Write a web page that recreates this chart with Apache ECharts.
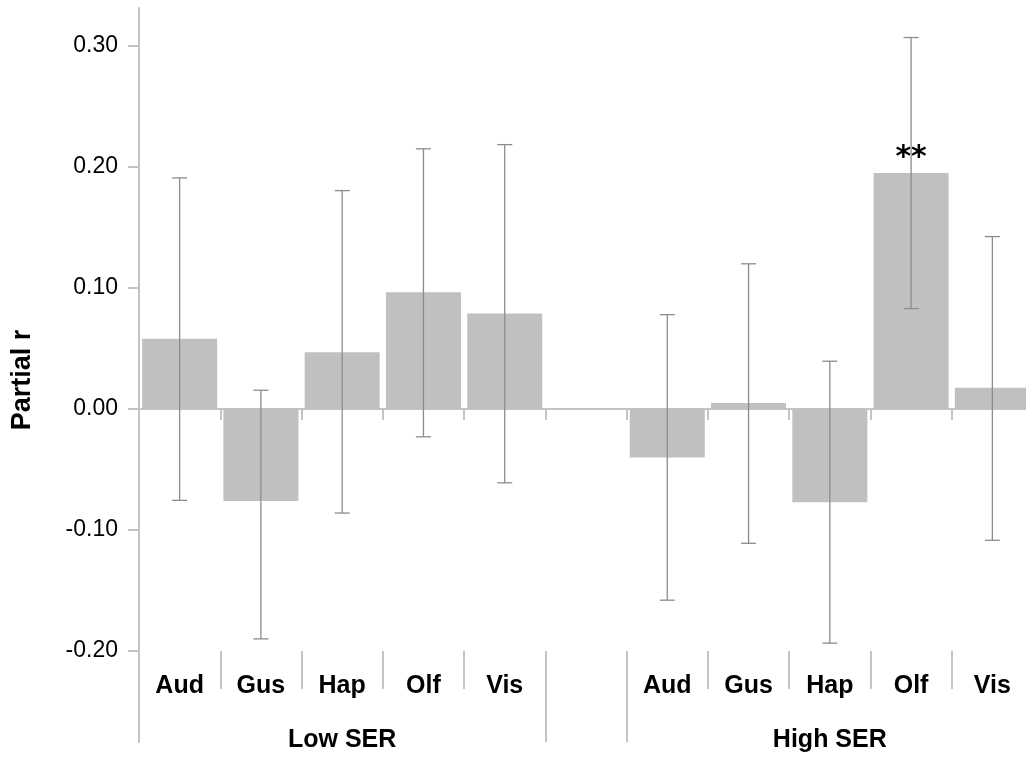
<!DOCTYPE html>
<html>
<head>
<meta charset="utf-8">
<script src="https://cdn.jsdelivr.net/npm/echarts@6/dist/echarts.min.js"></script>
<style>
  html, body { margin: 0; padding: 0; background: #fff; }
  #main { width: 1026px; height: 757px; }
</style>
</head>
<body>
<div id="main"></div>
<script>
var categories = ["Aud", "Gus", "Hap", "Olf", "Vis", "", "Aud", "Gus", "Hap", "Olf", "Vis"];
var groups = ["", "", "Low SER", "", "", "", "", "", "High SER", "", ""];
var partialR = [0.058, -0.076, 0.047, 0.0965, 0.079, null, -0.040, 0.005, -0.077, 0.195, 0.0175];
var ciLow = [-0.0755, -0.190, -0.086, -0.023, -0.061, null, -0.158, -0.111, -0.1935, 0.083, -0.1085];
var ciHigh = [0.191, 0.0155, 0.1805, 0.215, 0.2185, null, 0.078, 0.120, 0.0395, 0.307, 0.1425];
var sig = ["", "", "", "", "", "", "", "", "", "**", ""];

var axisGray = "#c4c4c4";
var font = "Liberation Sans";

var errData = [];
for (var i = 0; i < categories.length; i++) {
  if (ciLow[i] != null) errData.push([i, ciLow[i], ciHigh[i]]);
}

var option = {
  animation: false,
  textStyle: { fontFamily: font },
  grid: [
    { left: 139, right: -7, top: 46, bottom: 106, outerBoundsMode: "none" },
    { left: 139, right: -7, top: 8, bottom: 15, outerBoundsMode: "none" }
  ],
  xAxis: [
    {
      // zero line with short ticks
      type: "category",
      gridIndex: 0,
      data: categories,
      position: "bottom",
      axisLine: { onZero: true, lineStyle: { color: axisGray, width: 2 } },
      axisTick: { show: true, length: 11, lineStyle: { color: axisGray, width: 2 } },
      axisLabel: { show: false }
    },
    {
      // category labels
      type: "category",
      gridIndex: 0,
      data: categories,
      position: "bottom",
      axisLine: { show: false, onZero: false },
      axisTick: { show: true, length: 38, lineStyle: { color: axisGray, width: 2 } },
      axisLabel: { interval: 0, margin: 23, fontSize: 25, fontWeight: "bold", color: "#000", fontFamily: font }
    },
    {
      // group labels
      type: "category",
      gridIndex: 0,
      data: groups,
      position: "bottom",
      axisLine: { show: false, onZero: false },
      axisTick: {
        show: true, length: 91,
        interval: function (idx) { return idx === 5 || idx === 6; },
        lineStyle: { color: axisGray, width: 2 }
      },
      axisLabel: { interval: 0, margin: 77, fontSize: 25, fontWeight: "bold", color: "#000", fontFamily: font }
    },
    { type: "category", gridIndex: 1, data: categories, show: false }
  ],
  yAxis: [
    {
      type: "value",
      gridIndex: 0,
      min: -0.2,
      max: 0.3,
      interval: 0.1,
      axisLine: { show: false },
      axisTick: { show: true, length: 11, lineStyle: { color: axisGray, width: 2 } },
      axisLabel: {
        margin: 21, fontSize: 23, color: "#000", fontFamily: font,
        formatter: function (v) { return v.toFixed(2); }
      },
      splitLine: { show: false }
    },
    {
      type: "value",
      gridIndex: 1,
      min: 0,
      max: 1,
      name: "Partial r",
      nameLocation: "middle",
      nameGap: 103,
      nameTextStyle: { fontSize: 27, fontWeight: "bold", color: "#000", fontFamily: font, padding: [0, 10, 0, 0] },
      axisLine: { show: true, lineStyle: { color: axisGray, width: 2 } },
      axisTick: { show: false },
      axisLabel: { show: false },
      splitLine: { show: false }
    }
  ],
  series: [
    {
      type: "bar",
      xAxisIndex: 0,
      yAxisIndex: 0,
      data: partialR,
      barWidth: 75,
      itemStyle: { color: "#c0c0c0" },
      label: {
        show: true,
        position: "top",
        distance: 0,
        formatter: function (p) { return sig[p.dataIndex]; },
        fontSize: 30,
        fontWeight: "bold",
        color: "#000",
        fontFamily: "DejaVu Sans"
      },
      z: 2
    },
    {
      type: "custom",
      xAxisIndex: 0,
      yAxisIndex: 0,
      clip: false,
      data: errData,
      z: 5,
      renderItem: function (params, api) {
        var x = api.value(0);
        var lo = api.coord([x, api.value(1)]);
        var hi = api.coord([x, api.value(2)]);
        var half = 7.5;
        var style = { stroke: "#8c8c8c", lineWidth: 1.3 };
        return {
          type: "group",
          children: [
            { type: "line", shape: { x1: hi[0], y1: hi[1], x2: lo[0], y2: lo[1] }, style: style },
            { type: "line", shape: { x1: hi[0] - half, y1: hi[1], x2: hi[0] + half, y2: hi[1] }, style: style },
            { type: "line", shape: { x1: lo[0] - half, y1: lo[1], x2: lo[0] + half, y2: lo[1] }, style: style }
          ]
        };
      }
    }
  ]
};

echarts.init(document.getElementById("main")).setOption(option);
</script>
</body>
</html>
